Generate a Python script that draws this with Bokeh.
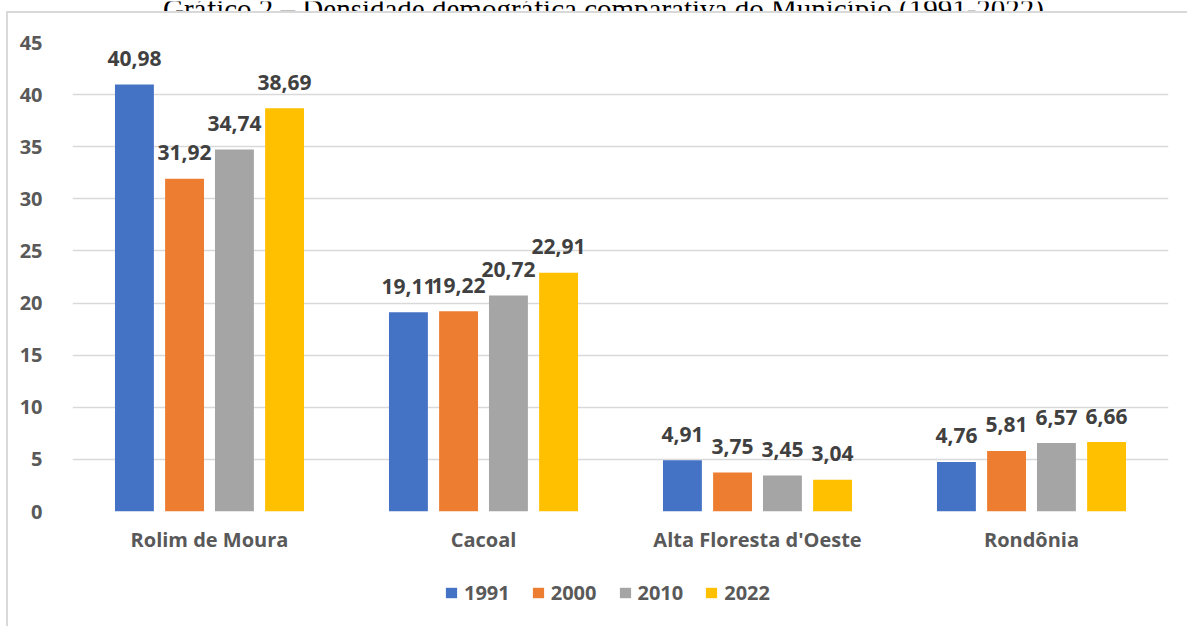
from bokeh.plotting import figure
from bokeh.models import (FactorRange, Range1d, ColumnDataSource, FixedTicker, Legend, LegendItem,
                          Label)
from bokeh.layouts import column
from bokeh.transform import dodge
from bokeh.core.properties import value
from bokeh.embed import file_html
from bokeh.resources import INLINE

categories = ["Rolim de Moura", "Cacoal", "Alta Floresta d'Oeste", "Rondônia"]
years = ["1991", "2000", "2010", "2022"]
v1991 = [40.98, 19.11, 4.91, 4.76]
v2000 = [31.92, 19.22, 3.75, 5.81]
v2010 = [34.74, 20.72, 3.45, 6.57]
v2022 = [38.69, 22.91, 3.04, 6.66]
y_ticks = [0, 5, 10, 15, 20, 25, 30, 35, 40, 45]
title_text = "Gráfico 2 – Densidade demográfica comparativa do Município (1991-2022)"

colors = ["#4472C4", "#ED7D31", "#A5A5A5", "#FFC000"]
offsets = [-0.274, -0.091, 0.091, 0.274]
FONT = "Open Sans"

css_main = (":host { background-image: linear-gradient(#D9D9D9, #D9D9D9), linear-gradient(#D9D9D9, #D9D9D9);"
            " background-repeat: no-repeat; background-position: 6px 0px, 6px 0px;"
            " background-size: 2px 100%, 100% 2px; }")
css_leg = (":host { background-image: linear-gradient(#D9D9D9, #D9D9D9);"
           " background-repeat: no-repeat; background-position: 6px 0px; background-size: 2px 100%; }")

# strip holding the (partly cut) title above the chart area
p0 = figure(width=1187, height=11, output_backend="svg", toolbar_location=None,
            x_range=Range1d(0, 1), y_range=Range1d(0, 1),
            x_axis_location=None, y_axis_location=None,
            min_border_left=0, min_border_right=0, min_border_top=0, min_border_bottom=0)
p0.outline_line_color = None
p0.background_fill_alpha = 0
p0.border_fill_alpha = 0
p0.grid.visible = False
title = Label(x=531, y=4, x_units="screen", y_units="screen", text=title_text,
              text_align="center", text_baseline="alphabetic", text_font="Liberation Serif",
              text_font_size="29px", text_color="#000000")
p0.add_layout(title)

p = figure(width=1187, height=549, output_backend="svg", toolbar_location=None,
           x_range=FactorRange(*categories, range_padding=0), y_range=Range1d(0, 45),
           min_border_left=72, min_border_right=19, min_border_top=31, min_border_bottom=49,
           stylesheets=[css_main])
p.outline_line_color = None
p.background_fill_color = "white"
p.border_fill_alpha = 0

src = ColumnDataSource(dict(cat=categories, v1991=v1991, v2000=v2000, v2010=v2010, v2022=v2022,
                            l1991=[f"{v:.2f}".replace(".", ",") for v in v1991],
                            l2000=[f"{v:.2f}".replace(".", ",") for v in v2000],
                            l2010=[f"{v:.2f}".replace(".", ",") for v in v2010],
                            l2022=[f"{v:.2f}".replace(".", ",") for v in v2022]))

for yr, col, off in zip(years, colors, offsets):
    p.vbar(x=dodge("cat", off, range=p.x_range), top="v" + yr, width=0.142, bottom=0,
           source=src, fill_color=col, line_color=None)
    p.text(x=dodge("cat", off, range=p.x_range), y="v" + yr, text="l" + yr, source=src,
           text_align="center", text_baseline="alphabetic", y_offset=-26,
           text_font=value(FONT), text_font_style="bold", text_font_size="21px",
           text_color="#404040")

p.yaxis.ticker = FixedTicker(ticks=y_ticks)
for ax in (p.xaxis[0], p.yaxis[0]):
    ax.axis_line_color = None
    ax.major_tick_line_color = None
    ax.minor_tick_line_color = None
    ax.major_label_text_font = FONT
    ax.major_label_text_font_style = "bold"
    ax.major_label_text_color = "#595959"
p.yaxis.major_label_text_font_size = "20px"
p.yaxis.major_label_standoff = 24
p.xaxis.major_label_text_font_size = "20px"
p.xaxis.major_label_standoff = 8
p.xgrid.grid_line_color = None
p.ygrid.grid_line_color = "#D9D9D9"
p.ygrid.grid_line_width = 1.3

# legend strip below the chart
p2 = figure(width=1187, height=66, output_backend="svg", toolbar_location=None,
            x_range=Range1d(0, 1), y_range=Range1d(0, 1),
            x_axis_location=None, y_axis_location=None,
            min_border_left=28, min_border_right=0, min_border_top=0, min_border_bottom=0,
            stylesheets=[css_leg])
p2.outline_line_color = None
p2.background_fill_alpha = 0
p2.border_fill_alpha = 0
p2.grid.visible = False
nan = float("nan")
items = []
for yr, col in zip(years, colors):
    r = p2.vbar(x=[nan], top=[nan], width=0.1, fill_color=col, line_color=None)
    items.append(LegendItem(label=yr, renderers=[r]))
legend = Legend(items=items, orientation="horizontal", location=(372, 20),
                glyph_width=14, glyph_height=13, label_standoff=6, spacing=21,
                margin=0, padding=0,
                label_text_font=FONT, label_text_font_style="bold", label_text_font_size="20px",
                label_text_color="#595959", border_line_color=None, background_fill_alpha=0)
p2.add_layout(legend, "center")

layout = column(p0, p, p2, spacing=0)
open("out.html", "w").write(file_html(layout, INLINE))
